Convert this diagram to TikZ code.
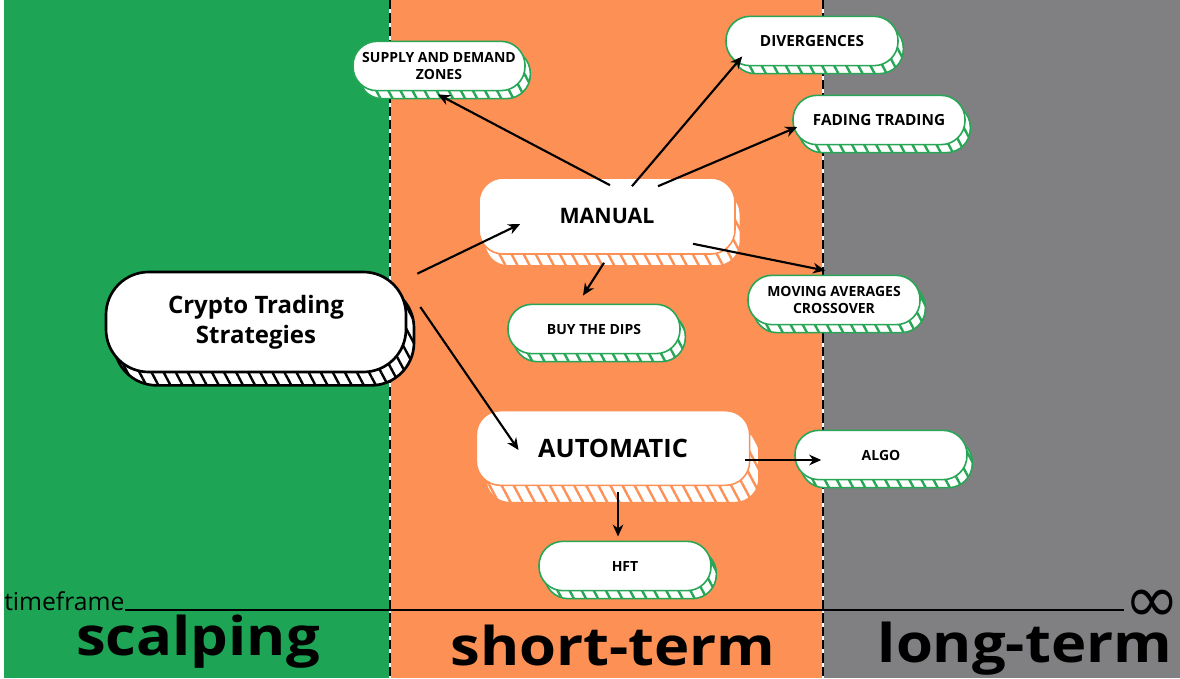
\documentclass[tikz,border=0pt]{standalone}
\usepackage{fontspec}
\setmainfont{Open Sans}
\newfontfamily\widefont[FakeStretch=1.12]{Open Sans}
\newfontfamily\symbolfont{DejaVu Sans}
\usetikzlibrary{shadows,patterns.meta,arrows.meta,calc}
\definecolor{scalpgreen}{HTML}{1DA555}
\definecolor{shortorange}{HTML}{FD9055}
\definecolor{longgray}{HTML}{808083}
\definecolor{leafgreen}{HTML}{27A656}

\tikzset{
  coin/.style n args={3}{rectangle, rounded corners=18pt, fill=white, draw=#1, line width=1.2pt, align=center,
    general shadow={shadow xshift=#2, shadow yshift=#3, fill=white},
    general shadow={shadow xshift=#2, shadow yshift=#3, draw=#1,
      pattern={Lines[angle=-62,distance=8pt,line width=1.8pt]}, pattern color=#1}},
  leaf/.style={coin={leafgreen}{4pt}{-6pt}, minimum width=129pt, minimum height=37pt,
    font=\bfseries\fontsize{10.5}{12.75}\selectfont},
  branch/.style={coin={shortorange}{4pt}{-9pt}, minimum width=192pt, minimum height=57pt,
    font=\bfseries\fontsize{16}{19}\selectfont},
  arr/.style={-{Stealth[length=9pt,width=8pt]}, line width=1.6pt},
  term/.style={anchor=base, inner sep=0pt, font=\widefont\bfseries\fontsize{40}{40}\selectfont},
}

\begin{document}
\begin{tikzpicture}[x=0.75pt,y=-0.75pt]
  \useasboundingbox (0,0) rectangle (1180,678);
  % time bands
  \fill[white] (0,0) rectangle (1180,678);
  \fill[scalpgreen] (4,0) rectangle (390,678);
  \fill[shortorange] (390,0) rectangle (823,678);
  \fill[longgray] (823,0) rectangle (1180,678);
  \foreach \x in {390,823} {
    \draw[white, line width=1pt] (\x,0) -- (\x,678);
    \draw[line width=1.6pt, dash pattern=on 7pt off 3pt] (\x,0) -- (\x,678);
  }

  % timeframe axis
  \node[anchor=base west, inner sep=0pt, font=\fontsize{18.5}{18.5}\selectfont] (tf) at (4,610) {timeframe};
  \node[anchor=west, inner sep=0pt, font=\symbolfont\fontsize{50}{50}\selectfont] (inf) at (1124,606) {∞};
  \draw[line width=1.5pt] (tf.base east) -- (tf.base east -| inf.west);

  \node[term] (scalp) at (198,655) {scalping};
  \node[term] (short) at (613,665) {short-term};
  \node[term] (long) at (1025,662) {long-term};

  % strategies
  \node[coin={black}{6pt}{-10pt}, line width=2pt, rounded corners=32pt, minimum width=225pt, minimum height=75pt,
    font=\bfseries\fontsize{18}{22.5}\selectfont] (crypto) at (256,322) {Crypto Trading\\Strategies};
  \node[branch] (manual) at (607,216) {MANUAL};
  \node[coin={shortorange}{7pt}{-13pt}, minimum width=205pt, minimum height=56pt,
    font=\bfseries\fontsize{19}{22}\selectfont] (automatic) at (613,448) {AUTOMATIC};

  \node[leaf] (supply) at (439,66) {SUPPLY AND DEMAND\\ZONES};
  \node[leaf, font=\bfseries\fontsize{11.5}{13}\selectfont] (diverg) at (812,41) {DIVERGENCES};
  \node[leaf, font=\bfseries\fontsize{11.5}{13}\selectfont] (fading) at (879,120) {FADING TRADING};
  \node[leaf] (movavg) at (834,300) {MOVING AVERAGES\\CROSSOVER};
  \node[leaf] (dips) at (594,329) {BUY THE DIPS};
  \node[leaf] (algo) at (881,455) {ALGO};
  \node[leaf] (hft) at (625,566) {HFT};

  % connectors
  \draw[arr] ($(crypto.north east)+(10,3)$) -- ($(manual.west)+(42,8)$);
  \draw[arr] ($(crypto.east)+(13,-15)$) -- ($(automatic.west)+(43,2)$);
  \draw[arr] ($(manual.north)+(3,8)$) -- ($(supply.south)+(-1,3)$);
  \draw[arr] ($(manual.north)+(25,9)$) -- ($(diverg.south west)+(17,-10)$);
  \draw[arr] ($(manual.north)+(51,9)$) -- ($(fading.west)+(5,7)$);
  \draw[arr] ($(manual.south)+(-3,8)$) -- ($(dips.north)+(-11,-8)$);
  \draw[arr] ($(manual.south)+(86,-11)$) -- ($(movavg.north)+(-9,-4)$);
  \draw[arr] ($(automatic.east)+(-5,12)$) -- ($(algo.west)+(27,5)$);
  \draw[arr] ($(automatic.south)+(5,6)$) -- ($(hft.north)+(-7,-4)$);
\end{tikzpicture}
\end{document}
